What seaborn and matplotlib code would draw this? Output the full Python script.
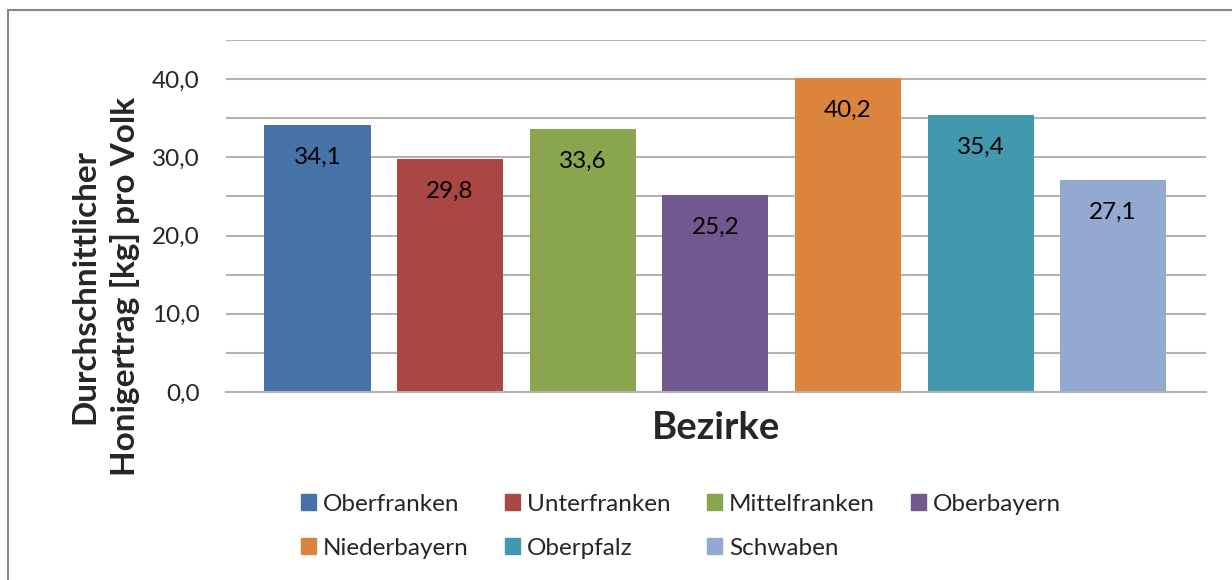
import matplotlib
matplotlib.use('Agg')
import matplotlib.pyplot as plt
import matplotlib.patches as mpatches
import numpy as np
import pandas as pd
import seaborn as sns

# Honigertrag je Bezirk
bezirke = ['Oberfranken', 'Unterfranken', 'Mittelfranken', 'Oberbayern',
           'Niederbayern', 'Oberpfalz', 'Schwaben']
ertrag = [34.1, 29.8, 33.6, 25.2, 40.2, 35.4, 27.1]
farben = ['#4572A7', '#AA4643', '#89A54E', '#71588F',
          '#DB843D', '#4198AF', '#93A9CF']
y_ticks = [0, 5, 10, 15, 20, 25, 30, 35, 40, 45]

sns.set_theme(style='white')
plt.rcParams['font.family'] = ['Lato', 'DejaVu Sans']


def de_fmt(v):
    return f'{v:.1f}'.replace('.', ',')


df = pd.DataFrame({'Bezirk': bezirke, 'Ertrag': ertrag})

fig = plt.figure(figsize=(12.32, 5.8), dpi=100)
ax = fig.add_axes([226 / 1232, 1 - 392 / 580, 980 / 1232, 352 / 580])

sns.barplot(data=df, x='Bezirk', y='Ertrag', hue='Bezirk', palette=farben,
            dodge=False, width=0.8, saturation=1, legend=False,
            linewidth=0, ax=ax)

# Werte in die Balken schreiben
for cont in ax.containers:
    ax.bar_label(cont, labels=[de_fmt(b.get_height()) for b in cont],
                 padding=-31, fontsize=17.5, color='black')

ax.set_ylim(0, 45)
ax.set_xlim(-0.69, 6.7)
ax.set_yticks(y_ticks)
ax.set_yticklabels([de_fmt(t) if t % 10 == 0 else '' for t in y_ticks], fontsize=17.5)
ax.tick_params(axis='y', length=0, pad=19)
ax.set_xticks([])
ax.grid(axis='y', color='#b3b3b3', linewidth=1.5)
ax.set_axisbelow(True)
for s in ['top', 'right', 'left']:
    ax.spines[s].set_visible(False)
ax.spines['bottom'].set_color('#b3b3b3')
ax.spines['bottom'].set_linewidth(1.5)

ax.set_xlabel('Bezirke', fontsize=27.5, fontweight='bold', labelpad=14)
ax.set_ylabel('Durchschnittlicher\nHonigertrag [kg] pro Volk', fontsize=24,
              fontweight='bold', linespacing=1.4)
ax.yaxis.set_label_coords(-0.088, 0.30)

# Legende zeilenweise wie im Original
reihenfolge = [0, 4, 1, 5, 2, 6, 3]
handles = [mpatches.Patch(color=farben[i], label=bezirke[i]) for i in reihenfolge]
fig.legend(handles=handles, loc='center', bbox_to_anchor=(0.553, 0.093),
           ncol=4, frameon=False, fontsize=17.5, handlelength=0.6,
           handleheight=0.6, handletextpad=0.3, columnspacing=1.5,
           labelspacing=0.95)

# Rahmen um das Diagramm
fig.patches.append(mpatches.Rectangle((8 / 1232, -0.05), 1.0, 1 - 10 / 580 + 0.05,
                                      transform=fig.transFigure, fill=False,
                                      edgecolor='#888888', linewidth=1.5))

fig.savefig('out.png', dpi=100)
